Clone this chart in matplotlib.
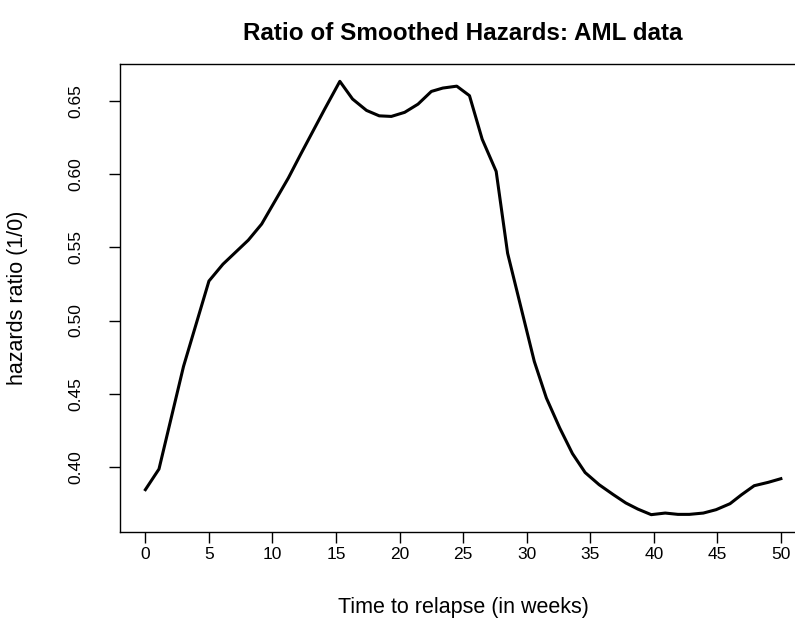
import matplotlib
matplotlib.use("Agg")
import matplotlib.pyplot as plt

# smoothed hazard ratio (group 1 / group 0), AML relapse times
weeks = [0.0, 1.07, 3.0, 5.0, 6.1, 8.1, 9.15, 11.25, 12.2, 14.1, 15.3,
         16.3, 17.4, 18.4, 19.35, 20.4, 21.45, 22.5, 23.4, 24.5, 25.5,
         26.5, 27.6, 28.5, 30.6, 31.55, 32.6, 33.6, 34.6, 35.7, 36.8,
         37.8, 38.75, 39.8, 40.9, 41.9, 42.8, 43.9, 44.9, 46.0, 46.9,
         47.9, 49.0, 50.0]
ratio = [0.3843, 0.3984, 0.4686, 0.5270, 0.5385, 0.5550, 0.5660, 0.5975,
         0.6134, 0.6445, 0.6636, 0.6515, 0.6437, 0.6400, 0.6396, 0.6424,
         0.6480, 0.6567, 0.6590, 0.6603, 0.6538, 0.6240, 0.6020, 0.5460,
         0.4720, 0.4470, 0.4265, 0.4090, 0.3960, 0.3877, 0.3810, 0.3752,
         0.3710, 0.3672, 0.3683, 0.3674, 0.3674, 0.3683, 0.3706, 0.3747,
         0.3808, 0.3870, 0.3893, 0.3918]

xticks = [0, 5, 10, 15, 20, 25, 30, 35, 40, 45, 50]
yticks = [0.40, 0.45, 0.50, 0.55, 0.60, 0.65]

plt.rcParams['font.family'] = ['Liberation Sans', 'DejaVu Sans']

W, H = 795, 622
fig = plt.figure(figsize=(W / 100, H / 100), dpi=100)
ax = fig.add_axes([0.1509, 0.1447, 0.8633, 0.7524])

ax.plot(weeks, ratio, color='black', linewidth=2.2)

# R-style 4% padding around the data range
xr = max(weeks) - min(weeks)
yr = max(ratio) - min(ratio)
ax.set_xlim(min(weeks) - 0.04 * xr, max(weeks) + 0.04 * xr)
ax.set_ylim(min(ratio) - 0.04 * yr, max(ratio) + 0.04 * yr)

ax.set_xticks(xticks)
ax.set_xticklabels([str(t) for t in xticks])
ax.set_yticks(yticks)
ax.set_yticklabels([f'{t:.2f}' for t in yticks], rotation=90, va='center')
ax.tick_params(direction='out', length=8, width=1.0, labelsize=12.5)
ax.tick_params(axis='x', pad=2.5)
ax.tick_params(axis='y', pad=18.5)

for s in ax.spines.values():
    s.set_linewidth(1.0)

fig.text(463 / W, 1 - 607 / H, 'Time to relapse (in weeks)',
         ha='center', va='center', fontsize=15.5)
fig.text(18 / W, 1 - 298 / H, 'hazards ratio (1/0)', rotation=90,
         ha='center', va='center', fontsize=15.5)
fig.text(463 / W, 1 - 34 / H, 'Ratio of Smoothed Hazards: AML data',
         ha='center', va='center', fontsize=17.5, fontweight='bold')

fig.savefig('out.png', dpi=100)
